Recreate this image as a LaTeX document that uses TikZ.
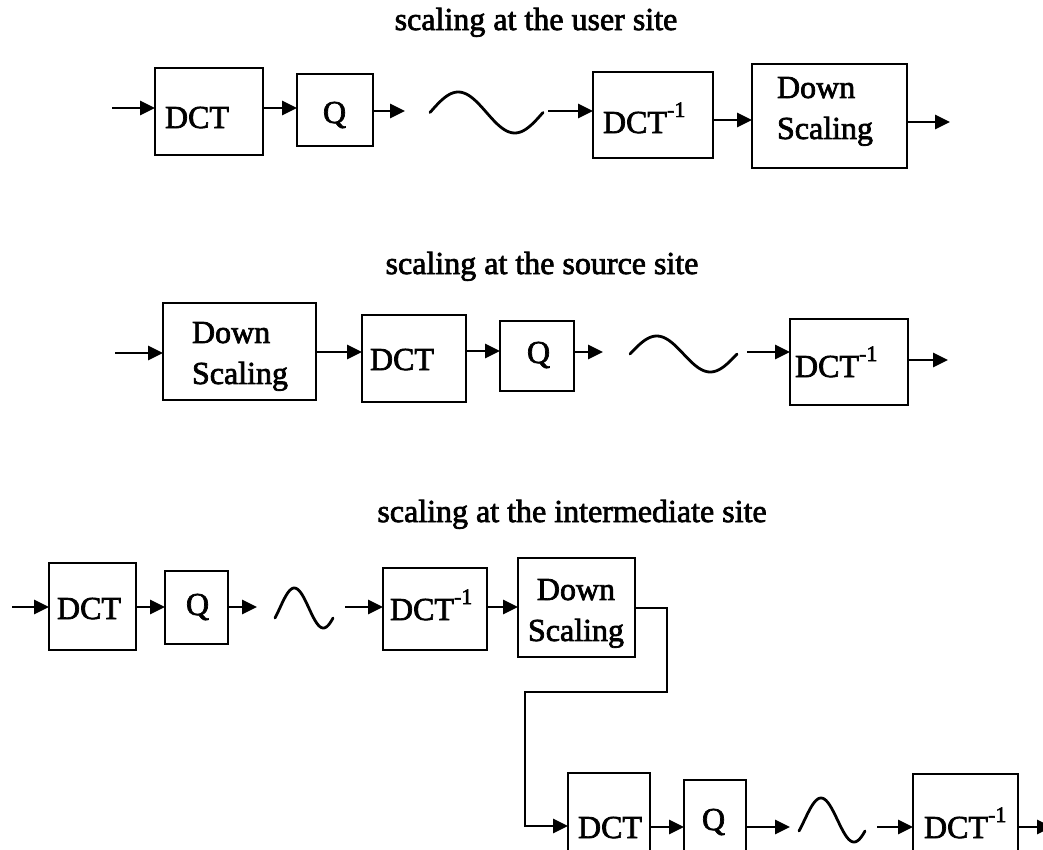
\documentclass[tikz,border=0pt]{standalone}
\usepackage{fontspec}
\setmainfont{Liberation Serif}
\newfontfamily\heavyserif{Liberation Serif}[FakeBold=2.2]
\usetikzlibrary{arrows.meta}
\tikzset{
  box/.style={draw, line width=2.8pt, inner sep=0pt, outer sep=0pt},
  lbl/.style={font=\heavyserif\fontsize{32}{41}\selectfont, inner sep=0pt, outer sep=0pt},
  tip/.style={-{Triangle[length=15pt,width=14pt]}},
  arr/.style={line width=2.8pt, tip},
  conn/.style={line width=2.8pt},
  wave/.style={line width=2.8pt, line cap=round},
}
\newcommand{\invdct}{DCT\raisebox{16pt}{\fontsize{22}{22}\selectfont -1}}
% \bx{name}{x1}{y1}{x2}{y2}
\newcommand{\bx}[5]{\node[box, minimum width={(#4-#2)*1pt}, minimum height={(#5-#3)*1pt}] (#1) at ({(#2+#4)/2},{(#3+#5)/2}) {};}
\begin{document}
\begin{tikzpicture}[x=1pt,y=-1pt]
\clip (0,0) rectangle (1043,849);

% ---------- row 1 ----------
\node[lbl, anchor=base] (t1) at (536,30) {scaling at the user site};
\bx{dct1}{155}{68}{263}{155}
\bx{q1}{297}{74}{373}{146}
\bx{idct1}{593}{72}{713}{158}
\bx{ds1}{752}{64}{907}{168}
\node[lbl, anchor=base west] (dct1t) at (165,128) {DCT};
\node[lbl, anchor=base west] (q1t) at (323,123) {Q};
\node[lbl, anchor=base west] (idct1t) at (603,133) {\invdct};
\node[lbl, anchor=north west, align=left] (ds1t) at (777,77) {Down\\Scaling};
\coordinate (in1) at (112,108);
\coordinate (o1a) at (405,111);
\coordinate (i1b) at (548,111);
\coordinate (out1) at (950,122);
\draw[arr] (in1) -- (dct1.west |- in1);
\draw[arr] (dct1.east |- 0,108) -- (q1.west |- 0,108);
\draw[arr] (q1.east |- o1a) -- (o1a);
\draw[wave] plot[domain=0:360, samples=60] ({430+\x*0.313889},{112.5-20.5*sin(\x)});
\draw[arr] (i1b) -- (idct1.west |- i1b);
\draw[arr] (idct1.east |- 0,120) -- (ds1.west |- 0,120);
\draw[arr] (ds1.east |- out1) -- (out1);

% ---------- row 2 ----------
\node[lbl, anchor=base] (t2) at (542,274) {scaling at the source site};
\bx{ds2}{163}{303}{316}{400}
\bx{dct2}{362}{315}{466}{402}
\bx{q2}{500}{321}{574}{391}
\bx{idct2}{790}{319}{908}{405}
\node[lbl, anchor=north west, align=left] (ds2t) at (192,322) {Down\\Scaling};
\node[lbl, anchor=base west] (dct2t) at (370,370) {DCT};
\node[lbl, anchor=base west] (q2t) at (527,363) {Q};
\node[lbl, anchor=base west] (idct2t) at (795,377) {\invdct};
\coordinate (in2) at (115,353);
\coordinate (o2a) at (603,352);
\coordinate (i2b) at (747,352);
\coordinate (out2) at (948,360);
\draw[arr] (in2) -- (ds2.west |- in2);
\draw[arr] (ds2.east |- 0,352) -- (dct2.west |- 0,352);
\draw[arr] (dct2.east |- 0,351) -- (q2.west |- 0,351);
\draw[arr] (q2.east |- o2a) -- (o2a);
\draw[wave] plot[domain=0:360, samples=60] ({630+\x*0.297222},{354-18*sin(\x)});
\draw[arr] (i2b) -- (idct2.west |- i2b);
\draw[arr] (idct2.east |- out2) -- (out2);

% ---------- row 3 ----------
\node[lbl, anchor=base] (t3) at (572,522) {scaling at the intermediate site};
\bx{dct3}{49}{563}{136}{650}
\bx{q3}{165}{571}{228}{644}
\bx{idct3}{383}{568}{487}{650}
\bx{ds3}{518}{558}{635}{657}
\node[lbl, anchor=base west] (dct3t) at (57,619) {DCT};
\node[lbl, anchor=base west] (q3t) at (186,615) {Q};
\node[lbl, anchor=base west] (idct3t) at (390,620) {\invdct};
\node[lbl, anchor=north, align=center] (ds3t) at (576,579) {Down\\Scaling};
\coordinate (in3) at (12,607);
\coordinate (o3a) at (257,607);
\coordinate (i3b) at (345,607);
\draw[arr] (in3) -- (dct3.west |- in3);
\draw[arr] (dct3.east |- 0,607) -- (q3.west |- 0,607);
\draw[arr] (q3.east |- o3a) -- (o3a);
\draw[wave] plot[domain=-30:330, samples=60] ({275+(\x+30)*0.161111},{608-20*sin(\x)});
\draw[arr] (i3b) -- (idct3.west |- i3b);
\draw[arr] (idct3.east |- 0,607) -- (ds3.west |- 0,607);

% ---------- row 4 ----------
\bx{dct4}{568}{773}{650}{900}
\bx{q4}{684}{780}{746}{900}
\bx{idct4}{913}{774}{1018}{900}
\node[lbl, anchor=base west] (dct4t) at (578,838) {DCT};
\node[lbl, anchor=base west] (q4t) at (702,830) {Q};
\node[lbl, anchor=base west] (idct4t) at (924,838) {\invdct};
\coordinate (o4a) at (790,827);
\coordinate (i4b) at (877,827);
\coordinate (out4) at (1052,827);
\draw[conn, tip] (ds3.east |- 0,608) -- (667,608) -- (667,692) -- (525,692) -- (525,826) -- (dct4.west |- 0,826);
\draw[arr] (dct4.east |- 0,827) -- (q4.west |- 0,827);
\draw[arr] (q4.east |- o4a) -- (o4a);
\draw[wave] plot[domain=-30:330, samples=60] ({799+(\x+30)*0.183333},{820-22*sin(\x)});
\draw[arr] (i4b) -- (idct4.west |- i4b);
\draw[arr] (idct4.east |- out4) -- (out4);
\end{tikzpicture}
\end{document}
